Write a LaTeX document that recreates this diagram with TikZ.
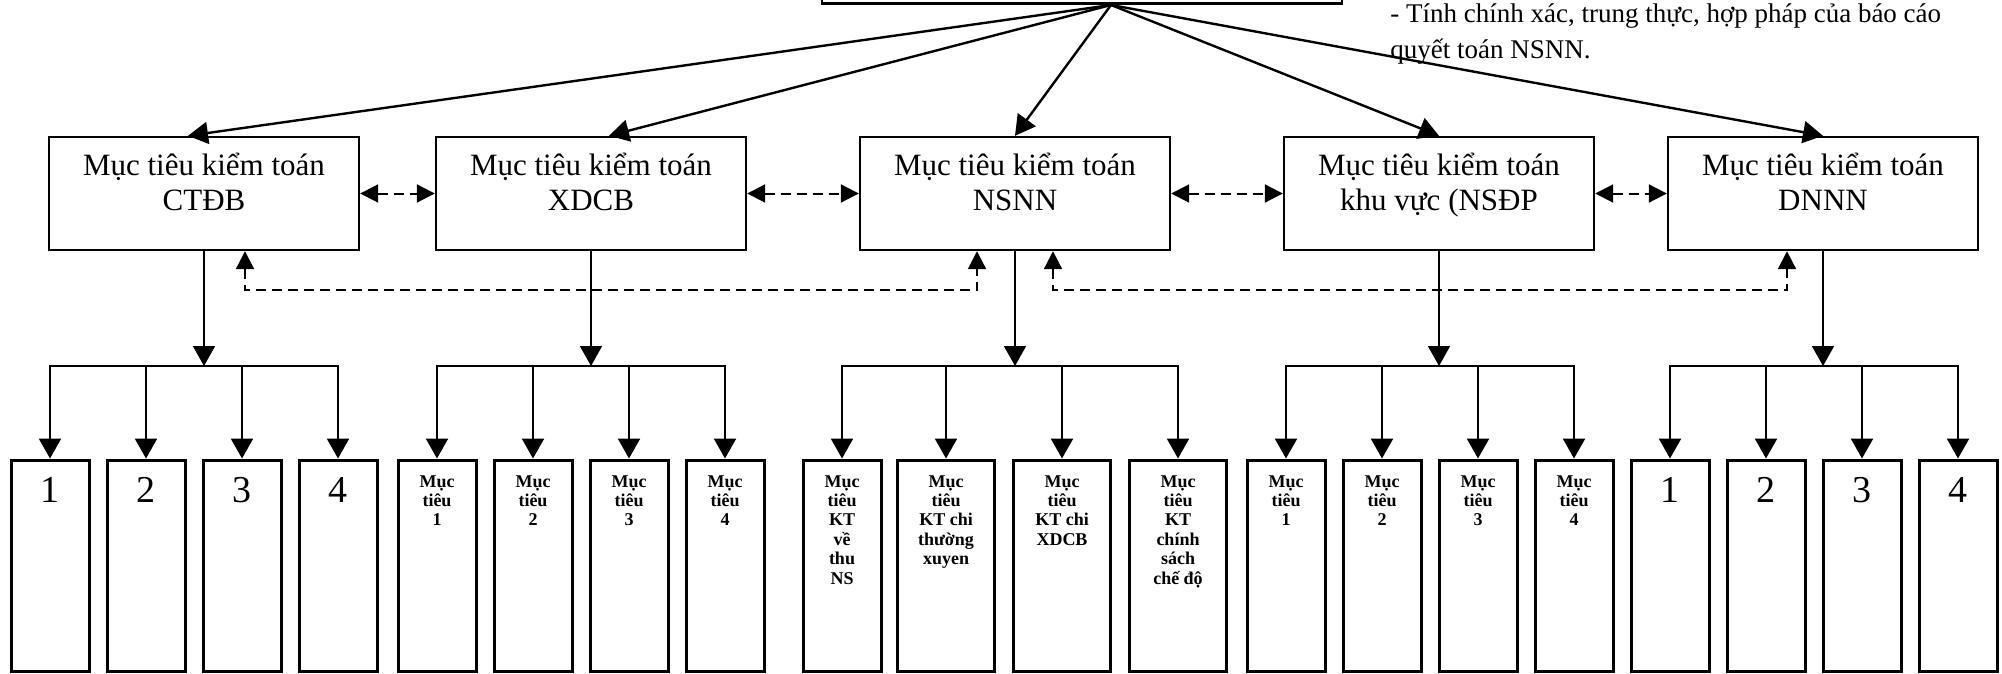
\documentclass[tikz,border=0pt]{standalone}
\usepackage{fontspec}
\setmainfont{Liberation Serif}
\usetikzlibrary{arrows.meta}
\newcommand{\lvlfont}{\fontsize{15.5pt}{17pt}\selectfont}
\newcommand{\aimfont}{\fontsize{13.5pt}{18pt}\selectfont}
\newcommand{\numfont}{\fontsize{19pt}{21pt}\selectfont}
\newcommand{\leaffont}{\bfseries\fontsize{9pt}{9.7pt}\selectfont}
\newcommand{\goalbox}[1]{\parbox[c][56.5pt][t]{155pt}{\lvlfont\centering\rule{0pt}{19.5pt}#1}}
\newcommand{\numbox}[1]{\parbox[c][105.5pt][t]{39pt}{\numfont\centering\rule{0pt}{21pt}#1}}
\newcommand{\txtbox}[2][39pt]{\parbox[c][105.5pt][t]{#1}{\leaffont\centering\rule{0pt}{13.5pt}#2}}
\tikzstyle{goal} = [rectangle, 
inner sep=0pt, 
draw=black, line width=1.2pt]
\tikzstyle{leaf} = [rectangle, 
inner sep=0pt, 
draw=black, line width=1.5pt, 
node distance=48pt]
\tikzstyle{arrow} = [line width=1.2pt,-{Triangle[width=11pt,length=10pt]}]
\tikzstyle{stem} = [line width=0.8pt,-{Triangle[width=11pt,length=10pt]}]
\tikzstyle{link} = [line width=1pt, dash pattern=on 5pt off 3pt,
{Triangle[width=9pt,length=9pt]}-{Triangle[width=9pt,length=9pt]}]

\begin{document}
\begin{tikzpicture}[x=0.5pt, y=-0.5pt, node distance=193.5pt]
\useasboundingbox (0,0) rectangle (2002,674);
\clip (0,0) rectangle (2002,674);

\node (top) [rectangle, draw=black, line width=1.3pt, minimum width=260pt, minimum height=40pt, anchor=south] at (1082,5) {};
\coordinate (hub) at (1111,5);
\node (aims) [anchor=north west, inner sep=0pt, align=left, font=\aimfont] at (1390,0) {\rule{0pt}{11pt}- Tính chính xác, trung thực, hợp pháp của báo cáo\\quyết toán NSNN.};

\node (ctdb) [goal] at (204,193.5) {\goalbox{Mục tiêu kiểm toán\\CTĐB}};
\node (xdcb) [goal, right of=ctdb] {\goalbox{Mục tiêu kiểm toán\\XDCB}};
\node (nsnn) [goal, right of=xdcb, xshift=18.5pt] {\goalbox{Mục tiêu kiểm toán\\NSNN}};
\node (nsdp) [goal, right of=nsnn, xshift=18.5pt] {\goalbox{Mục tiêu kiểm toán\\khu vực (NSĐP}};
\node (dnnn) [goal, right of=nsdp, xshift=-1.5pt] {\goalbox{Mục tiêu kiểm toán\\DNNN}};
\draw[arrow] (hub) -- ([xshift=-8pt]ctdb.north);
\draw[arrow] (hub) -- ([xshift=9pt]xdcb.north);
\draw[arrow] (hub) -- (nsnn.north);
\draw[arrow] (hub) -- (nsdp.north);
\draw[arrow] (hub) -- (dnnn.north);

\draw[link] (ctdb) -- (xdcb);
\draw[link] (xdcb) -- (nsnn);
\draw[link] (nsnn) -- (nsdp);
\draw[link] (nsdp) -- (dnnn);
\draw[link] ([xshift=20.5pt]ctdb.south) -- ++(0,39) -| ([xshift=-19pt]nsnn.south);
\draw[link] ([xshift=19pt]nsnn.south) -- ++(0,39) -| ([xshift=-18pt]dnnn.south);

\node[coordinate, below of=ctdb, node distance=86.25pt] (ctdbJ) {};
\node[coordinate, below of=xdcb, node distance=86.25pt] (xdcbJ) {};
\node[coordinate, below of=nsnn, node distance=86.25pt] (nsnnJ) {};
\node[coordinate, below of=nsdp, node distance=86.25pt] (nsdpJ) {};
\node[coordinate, below of=dnnn, node distance=86.25pt] (dnnnJ) {};
\draw[stem] (ctdb) -- (ctdbJ);
\draw[stem] (xdcb) -- (xdcbJ);
\draw[stem] (nsnn) -- (nsnnJ);
\draw[stem] (nsdp) -- (nsdpJ);
\draw[stem] (dnnn) -- (dnnnJ);

% CTDB
\node (ctdb1) [leaf] at (50,565.5) {\numbox{1}};
\node (ctdb2) [leaf, right of=ctdb1] {\numbox{2}};
\node (ctdb3) [leaf, right of=ctdb2] {\numbox{3}};
\node (ctdb4) [leaf, right of=ctdb3] {\numbox{4}};
\draw[arrow] (ctdbJ) -| (ctdb1);
\draw[arrow] (ctdbJ) -| (ctdb2);
\draw[arrow] (ctdbJ) -| (ctdb3);
\draw[arrow] (ctdbJ) -| (ctdb4);

% XDCB
\node (xdcb1) [leaf] at (437,565.5) {\txtbox{Mục\\tiêu\\1}};
\node (xdcb2) [leaf, right of=xdcb1] {\txtbox{Mục\\tiêu\\2}};
\node (xdcb3) [leaf, right of=xdcb2] {\txtbox{Mục\\tiêu\\3}};
\node (xdcb4) [leaf, right of=xdcb3] {\txtbox{Mục\\tiêu\\4}};
\draw[arrow] (xdcbJ) -| (xdcb1);
\draw[arrow] (xdcbJ) -| (xdcb2);
\draw[arrow] (xdcbJ) -| (xdcb3);
\draw[arrow] (xdcbJ) -| (xdcb4);

% NSNN
\node (nsnn1) [leaf] at (842,565.5) {\txtbox{Mục\\tiêu\\KT\\về\\thu\\NS}};
\node (nsnn2) [leaf, right of=nsnn1, xshift=4pt] {\txtbox[48.5pt]{Mục\\tiêu\\KT chi\\thường\\xuyen}};
\node (nsnn3) [leaf, right of=nsnn2, xshift=10pt] {\txtbox[48.5pt]{Mục\\tiêu\\KT chi\\XDCB}};
\node (nsnn4) [leaf, right of=nsnn3, xshift=10pt] {\txtbox[48.5pt]{Mục\\tiêu\\KT\\chính\\sách\\chế độ}};
\draw[arrow] (nsnnJ) -| (nsnn1);
\draw[arrow] (nsnnJ) -| (nsnn2);
\draw[arrow] (nsnnJ) -| (nsnn3);
\draw[arrow] (nsnnJ) -| (nsnn4);

% NSDP
\node (nsdp1) [leaf] at (1286,565.5) {\txtbox{Mục\\tiêu\\1}};
\node (nsdp2) [leaf, right of=nsdp1] {\txtbox{Mục\\tiêu\\2}};
\node (nsdp3) [leaf, right of=nsdp2] {\txtbox{Mục\\tiêu\\3}};
\node (nsdp4) [leaf, right of=nsdp3] {\txtbox{Mục\\tiêu\\4}};
\draw[arrow] (nsdpJ) -| (nsdp1);
\draw[arrow] (nsdpJ) -| (nsdp2);
\draw[arrow] (nsdpJ) -| (nsdp3);
\draw[arrow] (nsdpJ) -| (nsdp4);

% DNNN
\node (dnnn1) [leaf] at (1670,565.5) {\numbox{1}};
\node (dnnn2) [leaf, right of=dnnn1] {\numbox{2}};
\node (dnnn3) [leaf, right of=dnnn2] {\numbox{3}};
\node (dnnn4) [leaf, right of=dnnn3] {\numbox{4}};
\draw[arrow] (dnnnJ) -| (dnnn1);
\draw[arrow] (dnnnJ) -| (dnnn2);
\draw[arrow] (dnnnJ) -| (dnnn3);
\draw[arrow] (dnnnJ) -| (dnnn4);

\end{tikzpicture}
\end{document}
